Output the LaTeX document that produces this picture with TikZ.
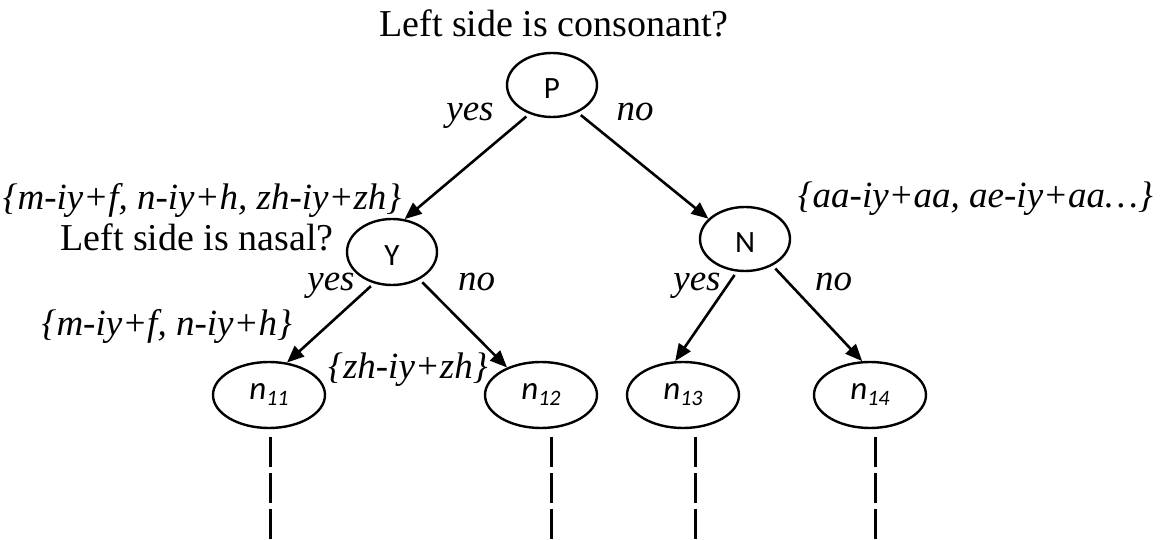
\documentclass[tikz,border=0pt]{standalone}
\usepackage{fontspec}
\setmainfont{Liberation Serif}
\newfontfamily\calibrifont{Carlito}
\usetikzlibrary{shapes.geometric, arrows.meta}

\newcommand{\leafname}[1]{n\raisebox{-6pt}{\fontsize{22}{22}\selectfont #1}}

\begin{document}
\begin{tikzpicture}[
        x=1pt, y=-1pt,
        qnode/.style={ellipse, draw, line width=2.4pt, inner sep=0pt, minimum width=90pt, minimum height=64pt, text height=27pt, text depth=0pt, font=\calibrifont\fontsize{31}{31}\selectfont},
        leaf/.style={ellipse, draw, line width=2.4pt, inner sep=0pt, minimum width=112pt, minimum height=66pt, font=\calibrifont\itshape\fontsize{33}{33}\selectfont},
        arrow/.style={-{Triangle[length=17pt, width=14pt]}, line width=2.6pt, shorten <=4pt},
        trail/.style={line width=3pt, dash pattern=on 30pt off 6pt, shorten <=8pt},
        question/.style={inner sep=0pt, font=\fontsize{38}{44}\selectfont},
        answer/.style={inner sep=0pt, font=\itshape\fontsize{37}{44}\selectfont}
    ]
        \useasboundingbox (0,0) rectangle (1163,540);

        \node[qnode] (P) at (552,85) {P};
        \node[qnode, minimum height=66pt] (Y) at (392,252) {Y};
        \node[qnode] (N) at (745,239) {N};
        \node[leaf] (n11) at (269,395) {\leafname{11}};
        \node[leaf] (n12) at (541,395) {\leafname{12}};
        \node[leaf] (n13) at (683,395) {\leafname{13}};
        \node[leaf] (n14) at (870,395) {\leafname{14}};

        \node[question, anchor=base] (askP) at (554,37) {Left side is consonant?};
        \node[question, anchor=base] (askY) at (197,251) {Left side is nasal?};
        \node[answer, anchor=base] (yesP) at (470,121) {yes};
        \node[answer, anchor=base] (noP) at (635,121) {no};
        \node[answer, anchor=base] (yesY) at (331,291) {yes};
        \node[answer, anchor=base west] (noY) at (458,291) {no};
        \node[answer, anchor=base] (yesN) at (697,291) {yes};
        \node[answer, anchor=base west] (noN) at (815,291) {no};
        \node[answer, anchor=base] (setY) at (202,210) {\{m-iy+f, n-iy+h, zh-iy+zh\}};
        \node[answer, anchor=base east] (setN) at (1153,208) {\{aa-iy+aa, ae-iy+aa…\}};
        \node[answer, anchor=base east] (set11) at (292,335) {\{m-iy+f, n-iy+h\}};
        \node[answer, anchor=base west] (set12) at (328,378) {\{zh-iy+zh\}};

        \draw[arrow] (P.232) -- (Y.69);
        \draw[arrow] (P.313) -- (N.151);
        \draw[arrow] (Y.240) -- (n11.61);
        \draw[arrow] (Y.315) -- (n12.141);
        \draw[arrow] (N.256) -- (n13.103);
        \draw[arrow] (N.316) -- (n14.103);

        % open branches below the leaves
        \coordinate (t11) at (270,540);
        \coordinate (t12) at (551,540);
        \coordinate (t13) at (695,540);
        \coordinate (t14) at (875,540);
        \draw[trail] (t11 |- n11.south) -- (t11);
        \draw[trail] (t12 |- n12.south) -- (t12);
        \draw[trail] (t13 |- n13.south) -- (t13);
        \draw[trail] (t14 |- n14.south) -- (t14);
    \end{tikzpicture}
\end{document}
